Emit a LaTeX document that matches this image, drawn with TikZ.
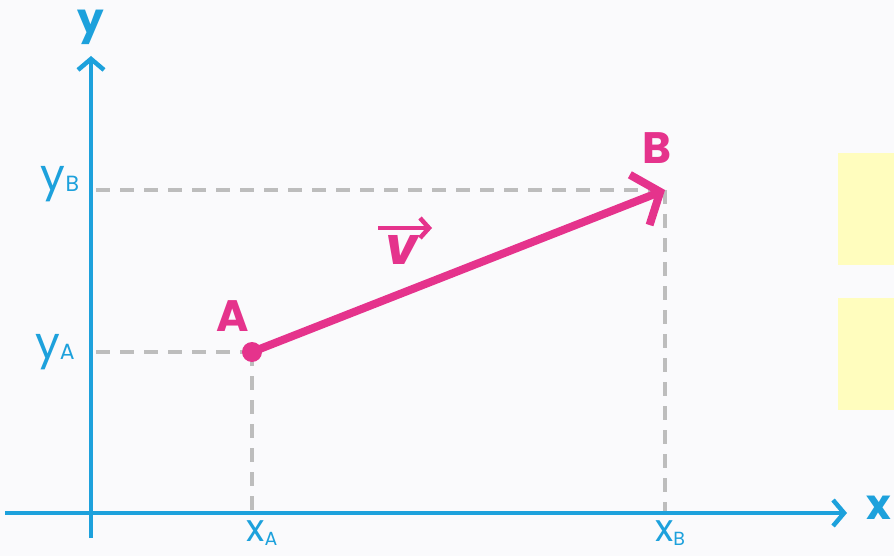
\documentclass[tikz,border=0pt]{standalone}
\usepackage{fontspec}
\setmainfont{Poppins}
\usetikzlibrary{arrows.meta}
\definecolor{axisblue}{HTML}{1DA1DC}
\definecolor{vecpink}{HTML}{E5338C}
\definecolor{dashgray}{HTML}{BDBDBD}
\definecolor{bgcol}{HTML}{FAFAFC}
\definecolor{boxyellow}{HTML}{FFFDBE}
\tikzset{
  axis/.style={draw=axisblue, line width=4.5pt, -{Straight Barb[length=11pt,width=26pt,line width=4.5pt]}},
  guide/.style={draw=dashgray, line width=3.2pt, dash pattern=on 14pt off 10pt},
  vec/.style={draw=vecpink, line width=8pt, -{Straight Barb[length=22pt,width=54pt,line width=8pt]}},
  axlabel/.style={text=axisblue, font=\fontsize{42}{42}\selectfont\bfseries},
  ticklabel/.style={text=axisblue, font=\fontsize{44}{44}\selectfont},
  xticklabel/.style={text=axisblue, font=\fontsize{38}{38}\selectfont, inner sep=0pt, anchor=base},
  ptlabel/.style={text=vecpink, font=\fontsize{44}{44}\selectfont\bfseries},
  panel/.style={fill=boxyellow, draw=none}
}
\begin{document}
\begin{tikzpicture}[x=1pt,y=-1pt]
\useasboundingbox (0,0) rectangle (894,556);
\fill[bgcol] (0,0) rectangle (894,556);
% yellow panels
\node[panel, minimum width=56pt, minimum height=112pt, anchor=north west, inner sep=0pt] (p1) at (838,153) {};
\node[panel, minimum width=56pt, minimum height=112pt, anchor=north west, inner sep=0pt] (p2) at (838,298) {};
% points
\coordinate (A) at (252,352);
\coordinate (B) at (665,190);
\coordinate (yaxB) at (91,538);
\coordinate (yaxT) at (91,56);
\coordinate (xaxL) at (5,513);
\coordinate (xaxR) at (847,513);
\coordinate (yBl) at (96,190);
\coordinate (yAl) at (96,352);
\coordinate (xAb) at (252,513);
\coordinate (xBb) at (665,513);
% dashed guides
\draw[guide] (yBl) -- (B);
\draw[guide] (B) -- (xBb);
\draw[guide] (yAl) -- (A);
\draw[guide] (A) -- (xAb);
% axes
\draw[axis] (yaxB) -- (yaxT);
\draw[axis] (xaxL) -- (xaxR);
% axis labels
\node[axlabel] (ylab) at (91,27) {y};
\node[axlabel] (xlab) at (879,508) {x};
\node[ticklabel] (yBlab) at (60,184) {y\raisebox{-0.02em}{\fontsize{22}{22}\selectfont B}};
\node[ticklabel] (yAlab) at (55,352) {y\raisebox{-0.02em}{\fontsize{22}{22}\selectfont A}};
\node[xticklabel] (xAlab) at (262,541) {x\raisebox{-0.12em}{\fontsize{19}{19}\selectfont A}};
\node[xticklabel] (xBlab) at (670,541) {x\raisebox{-0.12em}{\fontsize{19}{19}\selectfont B}};
% vector
\draw[vec] (A) -- (B);
\fill[vecpink] (A) circle (10pt);
\node[ptlabel] (Alab) at (233,316) {A};
\node[ptlabel] (Blab) at (657,148) {B};
\node[ptlabel, font=\fontsize{52}{52}\selectfont\bfseries\itshape] (vlab) at (402,250) {v};
\draw[draw=vecpink, line width=4.5pt, -{Straight Barb[length=9pt,width=20pt,line width=4.5pt]}] ([xshift=-24pt,yshift=22pt]vlab.center) -- ([xshift=30pt,yshift=22pt]vlab.center);
\end{tikzpicture}
\end{document}
